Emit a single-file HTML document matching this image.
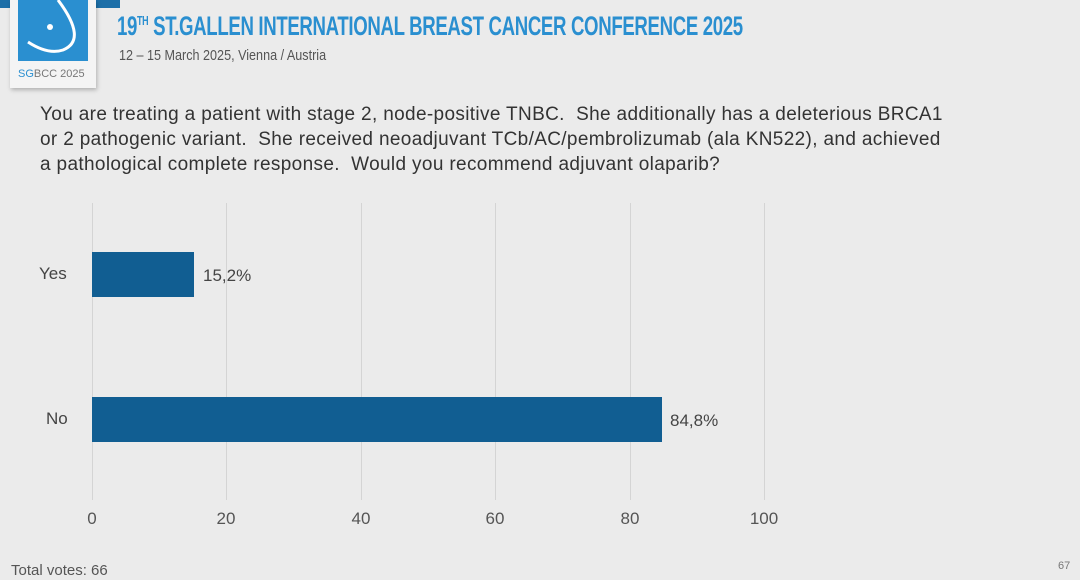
<!DOCTYPE html>
<html><head><meta charset="utf-8"><style>
body{margin:0;width:1080px;height:580px;background:#ebebeb;font-family:"Liberation Sans",sans-serif;position:relative;overflow:hidden}
.a{position:absolute}
.g{position:absolute;top:203px;height:297px;width:1px;background:#d4d4d4}
.t{position:absolute;top:509px;font-size:17px;color:#555;width:60px;text-align:center}
</style></head><body>
<div class="a" style="left:0;top:0;width:120px;height:8px;background:#1d6fa8"></div>
<div class="a" style="left:10px;top:0;width:86px;height:88px;background:#f4f4f4;box-shadow:1px 2px 4px rgba(0,0,0,.25)"></div>
<div class="a" style="left:18px;top:0;width:70px;height:61px;background:#2a8fd0"></div>
<svg class="a" style="left:18px;top:0" width="70" height="61"><path d="M40 0 Q70 40 45 50 Q30 55 10 42" stroke="#fff" stroke-width="3" fill="none"/><circle cx="32" cy="27" r="3" fill="#fff"/></svg>
<div class="a" style="left:18px;top:68px;font-size:11px;color:#777"><b style="color:#2a8fd0;font-weight:normal">SG</b>BCC 2025</div>
<div class="a" style="left:117px;top:11px;font-size:27px;font-weight:bold;color:#2a8fd0;transform:scaleX(.69);transform-origin:left;white-space:nowrap;letter-spacing:-0.5px">19<sup style="font-size:13px">TH</sup> ST.GALLEN INTERNATIONAL BREAST CANCER CONFERENCE 2025</div>
<div class="a" style="left:119px;top:47px;font-size:15px;color:#555;transform:scaleX(.84);transform-origin:left;white-space:nowrap">12 – 15 March 2025, Vienna / Austria</div>
<div class="a" style="left:40px;top:102px;font-size:19px;letter-spacing:0.35px;line-height:25px;color:#333;white-space:nowrap">You are treating a patient with stage 2, node-positive TNBC.&nbsp; She additionally has a deleterious BRCA1<br>or 2 pathogenic variant.&nbsp; She received neoadjuvant TCb/AC/pembrolizumab (ala KN522), and achieved<br>a pathological complete response.&nbsp; Would you recommend adjuvant olaparib?</div>
<div class="g" style="left:92px"></div><div class="g" style="left:226px"></div><div class="g" style="left:361px"></div><div class="g" style="left:495px"></div><div class="g" style="left:630px"></div><div class="g" style="left:764px"></div>
<div class="a" style="left:92px;top:252px;width:102px;height:45px;background:#115e92"></div>
<div class="a" style="left:92px;top:397px;width:570px;height:45px;background:#115e92"></div>
<div class="a" style="left:39px;top:264px;font-size:17px;color:#444">Yes</div>
<div class="a" style="left:46px;top:409px;font-size:17px;color:#444">No</div>
<div class="a" style="left:203px;top:266px;font-size:17px;color:#444">15,2%</div>
<div class="a" style="left:670px;top:411px;font-size:17px;color:#444">84,8%</div>
<div class="t" style="left:62px">0</div><div class="t" style="left:196px">20</div><div class="t" style="left:331px">40</div><div class="t" style="left:465px">60</div><div class="t" style="left:600px">80</div><div class="t" style="left:734px">100</div>
<div class="a" style="left:11px;top:562px;font-size:15px;color:#555">Total votes: 66</div>
<div class="a" style="left:1058px;top:560px;font-size:11px;color:#777">67</div>
</body></html>
